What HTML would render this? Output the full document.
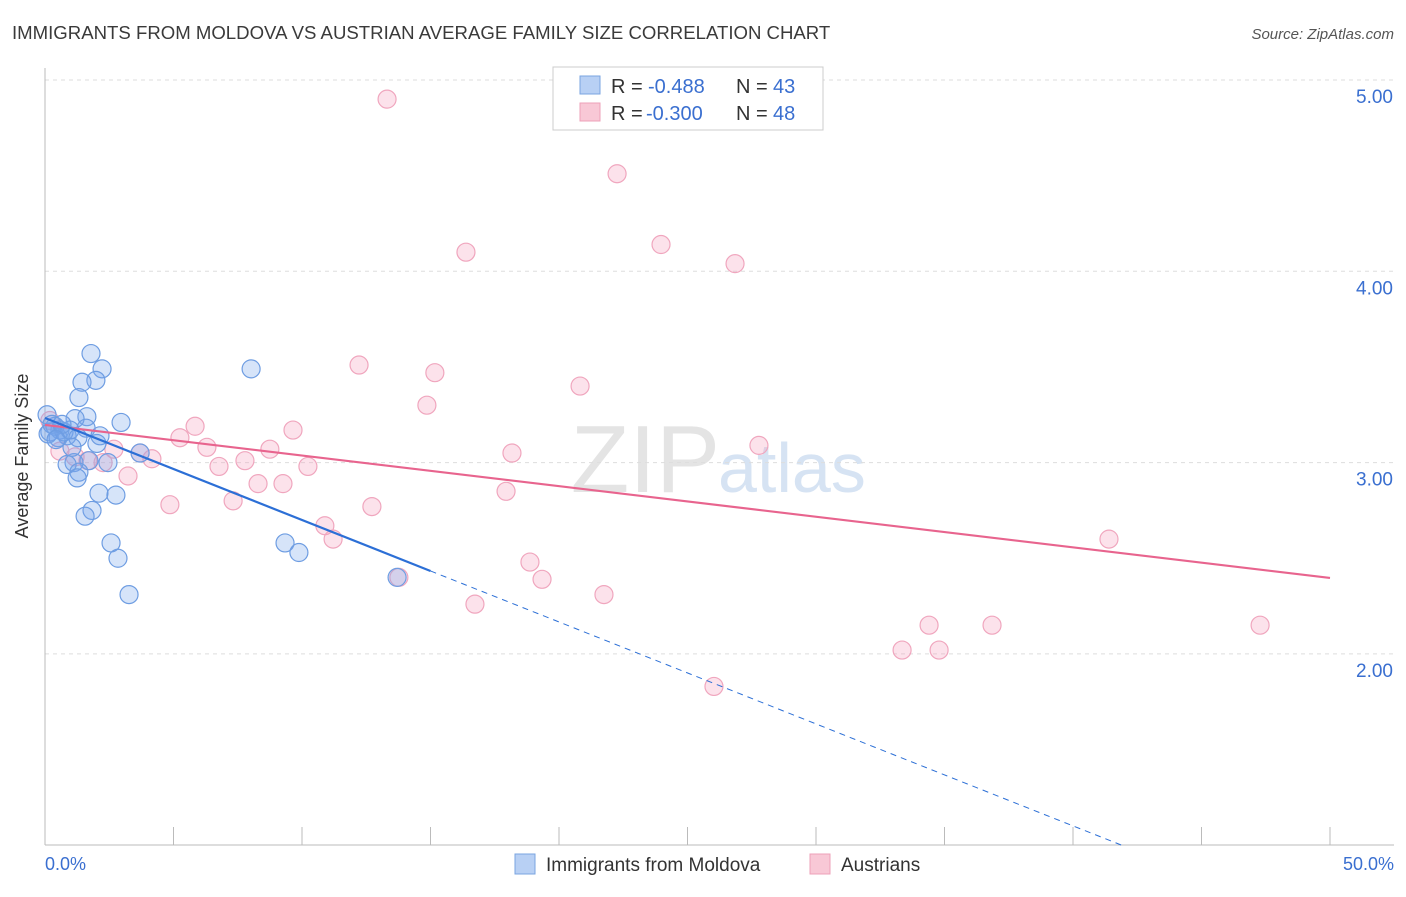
<!DOCTYPE html>
<html><head><meta charset="utf-8"><style>
body{margin:0;background:#fff;font-family:"Liberation Sans",sans-serif;}
svg text{font-family:"Liberation Sans",sans-serif;}
</style></head><body>
<svg id="c" width="1406" height="892">
<text x="12" y="39" font-size="18.6" fill="#3a3a3a">IMMIGRANTS FROM MOLDOVA VS AUSTRIAN AVERAGE FAMILY SIZE CORRELATION CHART</text>
<text x="1394" y="39" font-size="15" fill="#555" font-style="italic" text-anchor="end">Source: ZipAtlas.com</text>
<text x="720" y="492" font-size="96" fill="#e4e4e4" text-anchor="end" font-family="Liberation Serif">ZIP</text>
<text x="718" y="492" font-size="70" fill="#d6e3f3">atlas</text>
<g id="grid"></g><g id="ticks"></g>
<line x1="45" y1="68" x2="45" y2="845" stroke="#bbb"/>
<line x1="45" y1="845" x2="1394" y2="845" stroke="#bbb"/>
<text x="28" y="456" font-size="18" fill="#333" text-anchor="middle" transform="rotate(-90 28 456)">Average Family Size</text>
<text x="45" y="870" font-size="18" fill="#3a6fd0">0.0%</text>
<text x="1394" y="870" font-size="18" fill="#3a6fd0" text-anchor="end">50.0%</text>
<g id="pts"></g><g id="lines"></g>
<g>
<rect x="553" y="67" width="270" height="63" fill="#fff" stroke="#ccc"/>
<rect x="580" y="76" width="20" height="18" fill="#b8d0f4" stroke="#7aa4e0"/>
<rect x="580" y="103" width="20" height="18" fill="#f8c8d6" stroke="#eea0b8"/>
<text x="611" y="93" font-size="20" fill="#333">R =</text>
<text x="648" y="93" font-size="20" fill="#3a6fd0">-0.488</text>
<text x="736" y="93" font-size="20" fill="#333">N =</text>
<text x="773" y="93" font-size="20" fill="#3a6fd0">43</text>
<text x="611" y="120" font-size="20" fill="#333">R =</text>
<text x="646" y="120" font-size="20" fill="#3a6fd0">-0.300</text>
<text x="736" y="120" font-size="20" fill="#333">N =</text>
<text x="773" y="120" font-size="20" fill="#3a6fd0">48</text>
</g>
<g>
<rect x="515" y="854" width="20" height="20" fill="#b8d0f4" stroke="#7aa4e0"/>
<text x="546" y="871" font-size="19" fill="#333">Immigrants from Moldova</text>
<rect x="810" y="854" width="20" height="20" fill="#f8c8d6" stroke="#eea0b8"/>
<text x="841" y="871" font-size="19" fill="#333">Austrians</text>
</g>
</svg>
<script>
const yTicks=[2,3,4,5];
const yTickLabels=["2.00","3.00","4.00","5.00"];
const blueX=[1.79,2.22,1.98,1.44,1.32,1.63,2.96,1.17,2.02,0.86,1.60,0.58,0.19,0.08,0.39,3.70,2.45,1.71,1.13,0.86,1.32,1.25,2.10,2.76,1.83,1.56,2.57,2.84,3.27,8.02,9.34,9.88,13.70,0.27,0.51,0.74,0.97,0.12,0.66,1.28,2.14,0.43,1.05];
const blueY=[3.57,3.49,3.43,3.42,3.34,3.24,3.21,3.23,3.10,3.14,3.18,3.17,3.16,3.25,3.19,3.05,3.00,3.01,3.00,2.99,2.95,2.92,2.84,2.83,2.75,2.72,2.58,2.50,2.31,3.49,2.58,2.53,2.40,3.20,3.13,3.16,3.17,3.15,3.20,3.13,3.14,3.12,3.08];
const pinkX=[13.31,22.26,16.38,23.97,26.85,12.22,15.17,20.82,14.86,5.84,5.25,6.30,8.75,9.65,2.68,4.16,7.78,6.77,10.23,18.17,27.78,3.23,8.29,9.26,7.32,4.86,12.72,17.94,10.89,11.21,41.40,18.87,19.34,13.77,21.75,16.73,34.40,36.85,47.28,33.35,34.79,26.03,0.58,1.67,0.19,2.26,3.70,1.17];
const pinkY=[4.90,4.51,4.10,4.14,4.04,3.51,3.47,3.40,3.30,3.19,3.13,3.08,3.07,3.17,3.07,3.02,3.01,2.98,2.98,3.05,3.09,2.93,2.89,2.89,2.80,2.78,2.77,2.85,2.67,2.60,2.60,2.48,2.39,2.40,2.31,2.26,2.15,2.15,2.15,2.02,2.02,1.83,3.06,3.01,3.22,3.00,3.05,3.03];
const blueFit=[3.233,-0.0533];
const pinkFit=[3.197,-0.016];
const NS="http://www.w3.org/2000/svg";
const sx=v=>45+v*25.7, sy=v=>80+(5-v)*191.3;
function mk(p,t,a){const e=document.createElementNS(NS,t);for(const k in a)e.setAttribute(k,a[k]);p.appendChild(e);return e;}
const grid=document.getElementById('grid'),ticks=document.getElementById('ticks');
yTicks.forEach((v,i)=>{
 const l=mk(grid,'line',{x1:45,x2:1394,y1:sy(v),y2:sy(v),stroke:'#ddd','stroke-dasharray':'4,4'});
 
 
 const t=mk(ticks,'text',{x:1393,y:sy(v)+23,'font-size':19,fill:'#3a6fd0','text-anchor':'end'});t.textContent=yTickLabels[i];
 
 
});
for(let i=0;i<=10;i++){const l=mk(ticks,'line',{x1:sx(i*5),x2:sx(i*5),y1:827,y2:845,stroke:'#bbb'});
 
 }
const pts=document.getElementById('pts');
pinkX.forEach((x,i)=>{const c=mk(pts,'circle',{cx:sx(x),cy:sy(pinkY[i]),r:9,fill:'rgba(244,160,188,0.3)',stroke:'#f0a6be','stroke-width':1.2});
 
 });
blueX.forEach((x,i)=>{const c=mk(pts,'circle',{cx:sx(x),cy:sy(blueY[i]),r:9,fill:'rgba(120,165,235,0.3)',stroke:'#6e9de2','stroke-width':1.2});
 
 });
const ln=document.getElementById('lines');
const pl=mk(ln,'line',{x1:sx(0),y1:sy(pinkFit[0]),x2:sx(50),y2:sy(pinkFit[0]+50*pinkFit[1]),stroke:'#e8648e','stroke-width':2.2});


const bl=mk(ln,'line',{x1:sx(0),y1:sy(blueFit[0]),x2:sx(15),y2:sy(blueFit[0]+15*blueFit[1]),stroke:'#2c6fd6','stroke-width':2.2});


const xe=(1-blueFit[0])/blueFit[1];
const bd=mk(ln,'line',{x1:sx(15),y1:sy(blueFit[0]+15*blueFit[1]),x2:sx(xe),y2:sy(1),stroke:'#2c6fd6','stroke-width':1,'stroke-dasharray':'6,5'});


</script>
</body></html>
